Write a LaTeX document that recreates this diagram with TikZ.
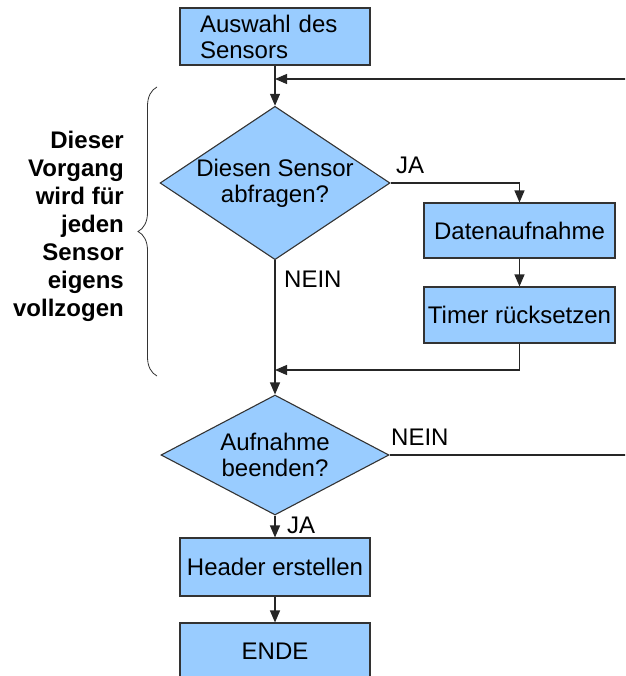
\documentclass[tikz,border=0pt]{standalone}
\usepackage{fontspec}
\setmainfont{Liberation Sans}
\usepackage{tikz}
\usetikzlibrary{positioning,arrows.meta,shapes.geometric,decorations.pathreplacing}
\definecolor{boxblue}{RGB}{153,204,255}
\definecolor{edgegray}{RGB}{51,51,51}
\newcommand{\flowfont}{\fontsize{24}{26}\selectfont}
\tikzset{
  proc/.style={draw=edgegray,fill=boxblue,line width=1.1pt,minimum width=190pt,minimum height=56pt,inner sep=0pt,font=\flowfont},
  decide/.style={diamond,draw=edgegray,fill=boxblue,line width=1.1pt,inner sep=0pt,align=center,font=\flowfont},
  flow/.style={line width=1.2pt,black!85,-{Triangle[length=12pt,width=10pt]}},
  lab/.style={font=\flowfont,anchor=west,inner sep=0pt},
  hint/.style={font=\fontsize{24}{28}\selectfont\bfseries,align=right,anchor=east,inner sep=0pt}
}

\begin{document}
\begin{tikzpicture}[x=1pt,y=-1pt]
      \useasboundingbox (0,0) rectangle (625,676);
      \clip (0,0) rectangle (625,676);
      \node[proc,text width=150pt,align=left,minimum height=57pt] (sel) at (275,36.5) {Auswahl des\\Sensors};
      \node[decide,aspect=1.5,minimum width=228pt,minimum height=152pt] (ask) at (275,183) {Diesen Sensor\\abfragen?};
      \node[proc,minimum width=191pt,minimum height=55pt] (rec) at (519.5,230.5) {Datenaufnahme};
      \node[proc,minimum width=191pt] (reset) at (519.5,315) {Timer rücksetzen};
      \node[decide,aspect=1.9,minimum width=228pt,minimum height=120pt] (stop) at (275,455) {Aufnahme\\beenden?};
      \node[proc,minimum height=58pt] (head) at (275,567) {Header erstellen};
      \node[proc,minimum height=57pt] (fin) at (275,651.5) {ENDE};
      \coordinate (top) at (275,79);
      \coordinate (mid) at (275,370);
      \coordinate (far) at (640,79);
      \draw[flow] (sel.south) -- (ask.north);
      \draw[flow] (ask.east) -| (rec.north);
      \draw[flow] (rec.south) -- (reset.north);
      \draw[flow] (reset.south) |- (mid);
      \draw[flow] (ask.south) -- (stop.north);
      \draw[flow] (stop.east) -| (far) -- (top);
      \draw[flow] (stop.south) -- (head.north);
      \draw[flow] (head.south) -- (fin.north);
      \node[lab] (yes1) at (396,165) {JA};
      \node[lab] (no1) at (284,279) {NEIN};
      \node[lab] (no2) at (391,437) {NEIN};
      \node[lab] (yes2) at (287,525) {JA};
      % bracket for the per-sensor loop
      \draw[decorate,decoration={brace,amplitude=19pt},edgegray,line width=0.8pt] (157,376) -- (157,87);
      \node[hint] (note) at (124,226) {Dieser\\Vorgang\\wird für\\jeden\\Sensor\\eigens\\vollzogen};
    \end{tikzpicture}
\end{document}
